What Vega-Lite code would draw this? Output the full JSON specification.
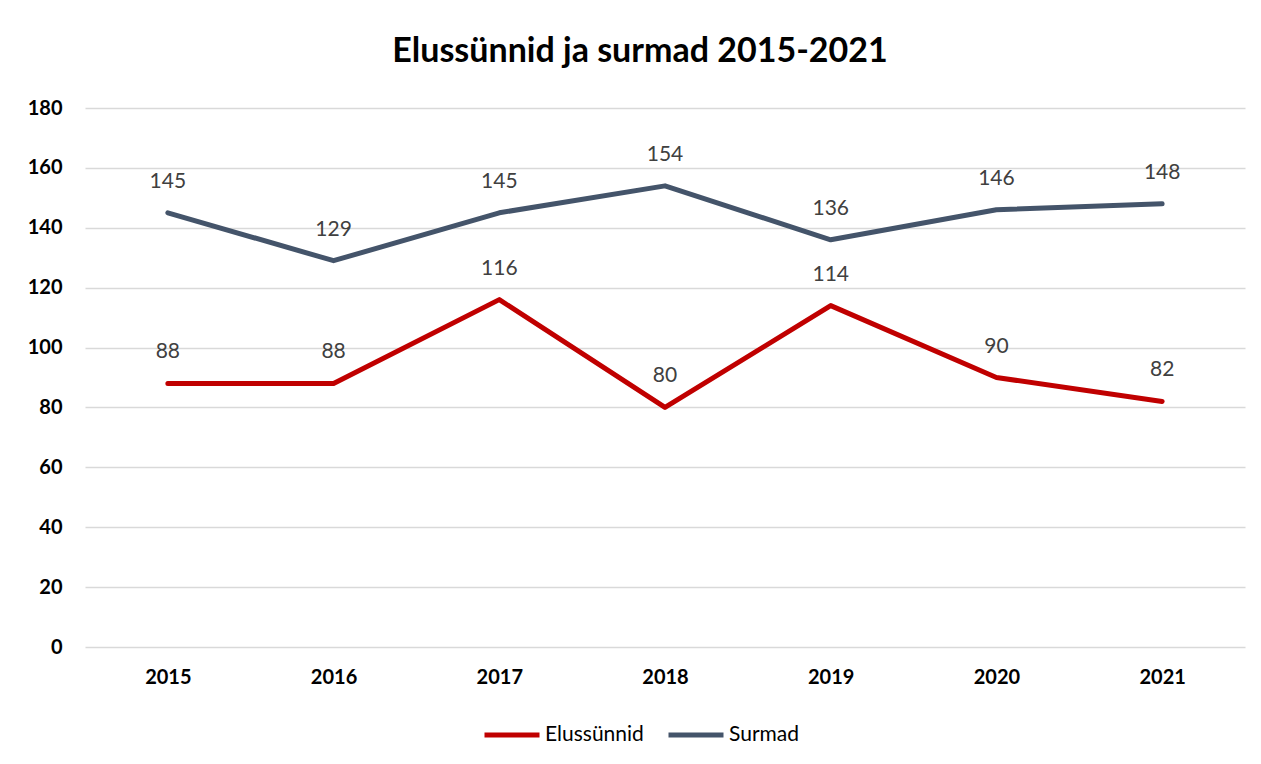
{
  "$schema": "https://vega.github.io/schema/vega-lite/v6.json",
  "width": 1160,
  "height": 539,
  "autosize": {"type": "none"},
  "padding": {"left": 85, "top": 108, "right": 16, "bottom": 117},
  "background": "white",
  "title": {
    "text": "Elussünnid ja surmad 2015-2021",
    "font": "Lato",
    "fontSize": 34,
    "fontWeight": "bold",
    "color": "#000000",
    "anchor": "middle",
    "dx": -25,
    "offset": 29
  },
  "data": {
    "values": [
      {"year": "2015", "series": "Elussünnid", "value": 88},
      {"year": "2016", "series": "Elussünnid", "value": 88},
      {"year": "2017", "series": "Elussünnid", "value": 116},
      {"year": "2018", "series": "Elussünnid", "value": 80},
      {"year": "2019", "series": "Elussünnid", "value": 114},
      {"year": "2020", "series": "Elussünnid", "value": 90},
      {"year": "2021", "series": "Elussünnid", "value": 82},
      {"year": "2015", "series": "Surmad", "value": 145},
      {"year": "2016", "series": "Surmad", "value": 129},
      {"year": "2017", "series": "Surmad", "value": 145},
      {"year": "2018", "series": "Surmad", "value": 154},
      {"year": "2019", "series": "Surmad", "value": 136},
      {"year": "2020", "series": "Surmad", "value": 146},
      {"year": "2021", "series": "Surmad", "value": 148}
    ]
  },
  "encoding": {
    "x": {
      "field": "year",
      "type": "ordinal",
      "scale": {"type": "point", "padding": 0.5},
      "axis": {
        "title": null,
        "labelAngle": 0,
        "labelFont": "Lato",
        "labelFontSize": 20,
        "labelFontWeight": "bold",
        "labelColor": "#000000",
        "labelPadding": 20,
        "domain": false,
        "ticks": false,
        "grid": false
      }
    },
    "y": {
      "field": "value",
      "type": "quantitative",
      "scale": {"domain": [0, 180]},
      "axis": {
        "title": null,
        "values": [0, 20, 40, 60, 80, 100, 120, 140, 160, 180],
        "labelFont": "Lato",
        "labelFontSize": 20,
        "labelFontWeight": "bold",
        "labelColor": "#000000",
        "labelPadding": 23,
        "domain": false,
        "ticks": false,
        "grid": true,
        "gridColor": "#d9d9d9",
        "gridWidth": 1.5
      }
    }
  },
  "layer": [
    {
      "mark": {"type": "line", "strokeWidth": 5, "strokeCap": "round", "strokeJoin": "round"},
      "encoding": {
        "color": {
          "field": "series",
          "type": "nominal",
          "scale": {"domain": ["Elussünnid", "Surmad"], "range": ["#C00000", "#44546A"]},
          "legend": {
            "title": null,
            "orient": "none",
            "direction": "horizontal",
            "legendX": 397,
            "legendY": 597,
            "symbolType": "stroke",
            "symbolSize": 3025,
            "symbolStrokeWidth": 5,
            "labelFont": "Lato",
            "labelFontSize": 21,
            "labelColor": "#000000",
            "labelOffset": 3,
            "columnPadding": 14
          }
        }
      }
    },
    {
      "mark": {"type": "text", "font": "Lato", "fontSize": 21, "color": "#404040", "baseline": "bottom", "dy": -21},
      "encoding": {
        "text": {"field": "value", "type": "quantitative"},
        "detail": {"field": "series", "type": "nominal"}
      }
    }
  ],
  "config": {"view": {"stroke": null}}
}
